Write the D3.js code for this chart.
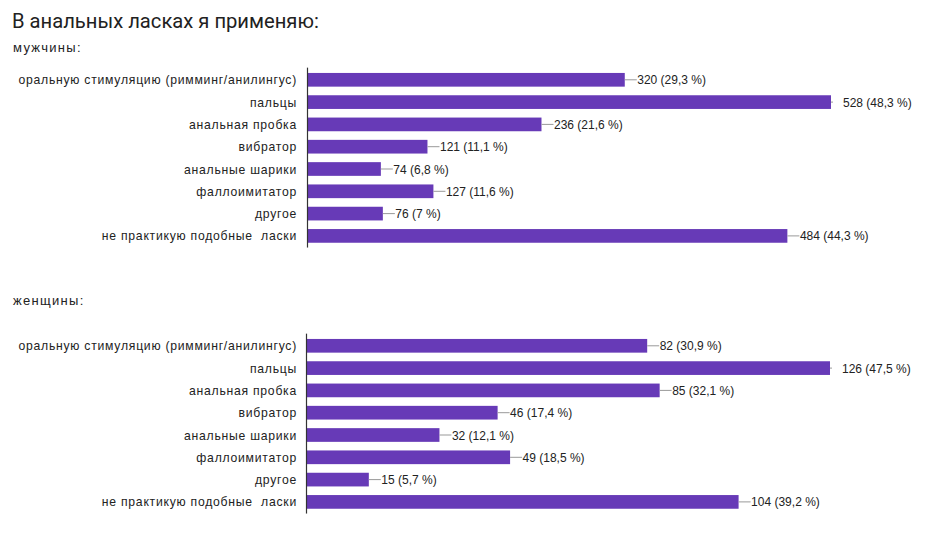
<!DOCTYPE html>
<html><head><meta charset="utf-8">
<script src="https://cdn.jsdelivr.net/npm/d3@7"></script>
<style>
body{margin:0;background:#fff;}
svg{display:block;}
text.cat{white-space:pre;}
</style></head>
<body>
<script>
const title = "В анальных ласках я применяю:";
const categories = [
  "оральную стимуляцию (римминг/анилингус)",
  "пальцы",
  "анальная пробка",
  "вибратор",
  "анальные шарики",
  "фаллоимитатор",
  "другое",
  "не практикую подобные  ласки"
];
const menTitle = "мужчины:";
const menCounts = [320, 528, 236, 121, 74, 127, 76, 484];
const menPercents = ["29,3", "48,3", "21,6", "11,1", "6,8", "11,6", "7", "44,3"];
const womenTitle = "женщины:";
const womenCounts = [82, 126, 85, 46, 32, 49, 15, 104];
const womenPercents = ["30,9", "47,5", "32,1", "17,4", "12,1", "18,5", "5,7", "39,2"];

const W = 937, H = 547;
const svg = d3.select("body").append("svg").attr("width", W).attr("height", H);
const BAR = "#673ab7";
const labelFont = "'Liberation Sans', Arial, sans-serif";

svg.append("text").attr("x", 12).attr("y", 28)
  .attr("font-family", "Roboto, sans-serif").attr("font-size", 20.2)
  .attr("fill", "#212121").text(title);

function panel(sub, subY, counts, perc, y0, y1, x0, x1) {
  svg.append("text").attr("x", 13).attr("y", subY)
    .attr("font-family", labelFont).attr("font-size", 13)
    .attr("letter-spacing", "1.3px").attr("fill", "#222").text(sub);

  const y = d3.scaleBand().domain(categories).range([y0, y1])
    .paddingInner(0.386).paddingOuter(0.193);
  const x = d3.scaleLinear().domain([0, d3.max(counts)]).range([x0, x1]);
  const g = svg.append("g");
  const data = categories.map((c, i) => ({c, v: counts[i], p: perc[i]}));
  const maxV = d3.max(counts);

  g.selectAll("rect").data(data).join("rect")
    .attr("x", x(0)).attr("y", d => y(d.c))
    .attr("width", d => x(d.v) - x(0)).attr("height", y.bandwidth())
    .attr("fill", BAR);

  g.selectAll("line.lead").data(data).join("line").attr("class", "lead")
    .attr("x1", d => x(d.v)).attr("x2", d => d.v === maxV ? x(d.v) + 2 : x(d.v) + 12)
    .attr("y1", d => y(d.c) + y.bandwidth() / 2).attr("y2", d => y(d.c) + y.bandwidth() / 2)
    .attr("stroke", "#999").attr("stroke-width", 1);

  g.selectAll("text.val").data(data).join("text").attr("class", "val")
    .attr("x", d => d.v === maxV ? x(d.v) + 12 : x(d.v) + 12.5)
    .attr("y", d => y(d.c) + y.bandwidth() / 2 + 4.5)
    .attr("font-family", labelFont).attr("font-size", 12).attr("fill", "#222")
    .text(d => `${d.v} (${d.p} %)`);

  g.selectAll("text.cat").data(data).join("text").attr("class", "cat")
    .attr("x", 297).attr("y", d => y(d.c) + y.bandwidth() / 2 + 4.5)
    .attr("text-anchor", "end")
    .attr("font-family", labelFont).attr("font-size", 12.2)
    .attr("letter-spacing", "0.75px").attr("fill", "#222")
    .text(d => d.c);

  g.append("line").attr("x1", x0).attr("x2", x0)
    .attr("y1", y0 - 1).attr("y2", y1 + 0.5)
    .attr("stroke", "#333").attr("stroke-width", 1.2);
}

panel(menTitle, 52, menCounts, menPercents, 68.65, 247.05, 307.5, 831);
panel(womenTitle, 305, womenCounts, womenPercents, 334.65, 513.05, 306.5, 830);
</script>
</body></html>
